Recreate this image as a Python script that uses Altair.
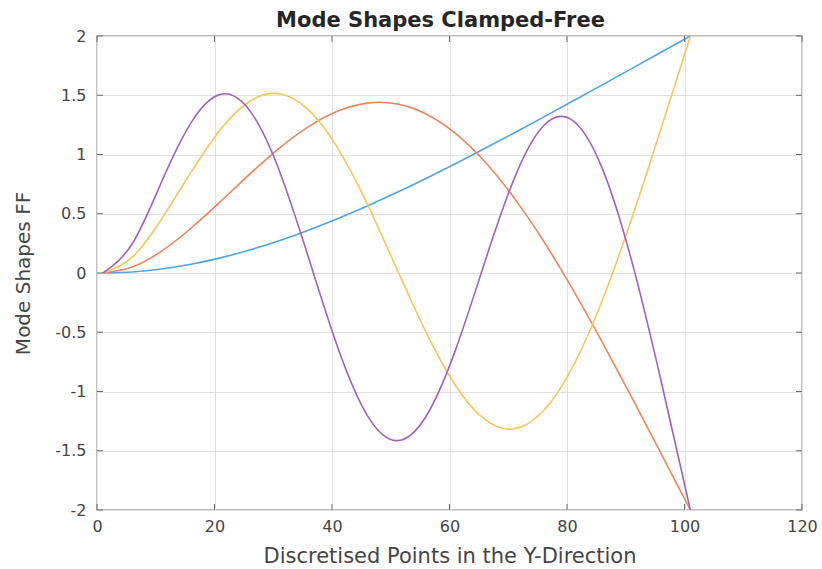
import altair as alt
import pandas as pd

# ---- data ----
x_points = [1, 6, 11, 16, 21, 26, 31, 36, 41, 46, 51, 56, 61, 66, 71, 76, 81, 86, 91, 96, 101]
mode1 = [0, 0.0086, 0.0336, 0.0737, 0.1277, 0.1946, 0.2730, 0.3618, 0.4598, 0.5659,
         0.6790, 0.7982, 0.9223, 1.0504, 1.1818, 1.3155, 1.4510, 1.5876, 1.7248, 1.8624, 2.0]
mode2 = [0, 0.0507, 0.1853, 0.3776, 0.6021, 0.8345, 1.0523, 1.2353, 1.3668, 1.4339,
         1.4273, 1.3425, 1.1790, 0.9404, 0.6341, 0.2700, -0.1401, -0.5833, -1.0475, -1.5222, -2.0]
mode3 = [0, 0.1341, 0.4561, 0.8496, 1.2090, 1.4490, 1.5125, 1.3761, 1.0519, 0.5835,
         0.0394, -0.4986, -0.9475, -1.2361, -1.3148, -1.1628, -0.7896, -0.2315, 0.4573, 1.2174, 2.0]
mode4 = [0, 0.2469, 0.7700, 1.2675, 1.5076, 1.3703, 0.8677, 0.1315, -0.6311, -1.2011,
         -1.4142, -1.2106, -0.6530, 0.0904, 0.7947, 1.2428, 1.2861, 0.8833, 0.1041, -0.9074, -2.0]

series_names = ["Mode 1", "Mode 2", "Mode 3", "Mode 4"]
series_values = [mode1, mode2, mode3, mode4]
series_colors = ["#4ea5e0", "#e8875c", "#f4c75a", "#a162ba"]

x_ticks = [0, 20, 40, 60, 80, 100, 120]
y_ticks = [-2, -1.5, -1, -0.5, 0, 0.5, 1, 1.5, 2]
title_text = "Mode Shapes Clamped-Free"

W, H = 705, 474
TICK = 6
FONT = "DejaVu Sans"
TXT = "#454545"

xscale = alt.Scale(domain=[0, 120], nice=False, zero=False)
yscale = alt.Scale(domain=[-2, 2], nice=False, zero=False)

x_axis = alt.Axis(values=x_ticks, title="Discretised Points in the Y-Direction",
                  labelPadding=8, labelFlush=False, labelOverlap=False,
                  titleX=W / 2, titleY=46, titleAlign="center", titleBaseline="middle",
                  titleFontSize=21)
y_axis = alt.Axis(values=y_ticks, title="Mode Shapes FF", labelExpr="'' + datum.value",
                  labelPadding=11, labelFlush=False, labelOverlap=False,
                  titleX=-74, titleY=H / 2, titleAngle=270, titleAlign="center",
                  titleBaseline="middle", titleFontSize=20)

layers = []
for name, vals, col in zip(series_names, series_values, series_colors):
    df = pd.DataFrame({"x": x_points, "y": vals, "series": name})
    layers.append(
        alt.Chart(df).mark_line(color=col, strokeWidth=1.6, interpolate="natural", clip=True)
        .encode(
            x=alt.X("x:Q", scale=xscale, axis=x_axis),
            y=alt.Y("y:Q", scale=yscale, axis=y_axis),
        )
    )

xt = pd.DataFrame({"x": x_ticks})
yt = pd.DataFrame({"y": y_ticks})
tick_color = "#6a6a6a"
bottom = alt.Chart(xt).mark_rule(color=tick_color, strokeWidth=1).encode(
    x=alt.X("x:Q", scale=xscale, axis=x_axis), y=alt.value(H), y2=alt.value(H - TICK))
top = alt.Chart(xt).mark_rule(color=tick_color, strokeWidth=1).encode(
    x=alt.X("x:Q", scale=xscale, axis=x_axis), y=alt.value(0), y2=alt.value(TICK))
left = alt.Chart(yt).mark_rule(color=tick_color, strokeWidth=1).encode(
    y=alt.Y("y:Q", scale=yscale, axis=y_axis), x=alt.value(0), x2=alt.value(TICK))
right = alt.Chart(yt).mark_rule(color=tick_color, strokeWidth=1).encode(
    y=alt.Y("y:Q", scale=yscale, axis=y_axis), x=alt.value(W), x2=alt.value(W - TICK))

title = alt.Chart(pd.DataFrame({"t": [title_text]})).mark_text(
    font=FONT, fontSize=21, fontWeight="bold", color="#262626",
    align="center", baseline="alphabetic", clip=False,
).encode(text="t:N", x=alt.value(W / 2 - 9), y=alt.value(-9))

chart = (
    alt.layer(*layers, bottom, top, left, right, title)
    .properties(
        width=W, height=H,
        autosize=alt.AutoSizeParams(type="none"),
        padding={"left": 97, "top": 36, "right": 20, "bottom": 59},
    )
    .configure_view(stroke="#7a7a7a", strokeWidth=1.3)
    .configure_axis(grid=True, gridColor="#e2e2e2", gridWidth=1, domain=False, ticks=False,
                    labelFont=FONT, labelFontSize=16, labelColor=TXT,
                    titleFont=FONT, titleColor=TXT, titleFontWeight="normal")
)

chart.save("out.html", embed_options={"renderer": "svg", "actions": False})
